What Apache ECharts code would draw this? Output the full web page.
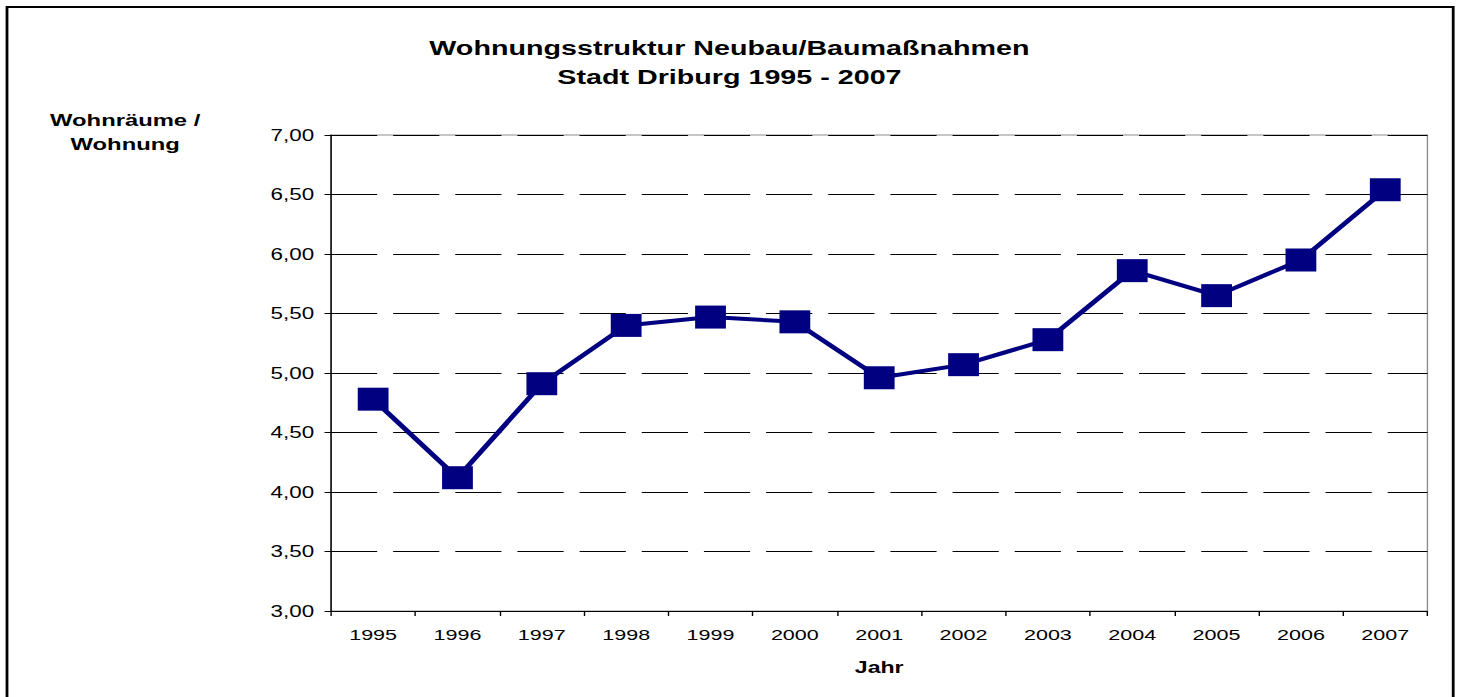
<!DOCTYPE html>
<html>
<head>
<meta charset="utf-8">
<script src="https://cdn.jsdelivr.net/npm/echarts@6/dist/echarts.min.js"></script>
<style>
  html, body { margin: 0; padding: 0; background: #fff; overflow: hidden; }
  /* Vorlage ist horizontal gestreckt (ca. 1.4x), daher schmaler zeichnen und strecken */
  #chart {
    width: 1041.4px;
    height: 697px;
    transform: scaleX(1.4);
    transform-origin: 0 0;
  }
</style>
</head>
<body>
<div id="chart"></div>
<script>
// Daten
const jahre = ['1995', '1996', '1997', '1998', '1999', '2000', '2001',
  '2002', '2003', '2004', '2005', '2006', '2007']
const wohnraeume = [4.78, 4.12, 4.91, 5.40, 5.47, 5.43, 4.96,
  5.07, 5.28, 5.86, 5.65, 5.95, 6.54]

const chart = echarts.init(document.getElementById('chart'), null, { renderer: 'svg' })

const fontFamily = '"Liberation Sans", Arial, sans-serif'

chart.setOption({
  animation: false,
  backgroundColor: '#fff',
  title: {
    text: 'Wohnungsstruktur Neubau/Baumaßnahmen\nStadt Driburg 1995 - 2007',
    left: 516,
    textAlign: 'center',
    top: 28,
    textStyle: {
      fontFamily: fontFamily,
      fontWeight: 'bold',
      fontSize: 20.5,
      lineHeight: 29,
      color: '#000',
    },
  },
  // Rahmen um das ganze Diagramm
  graphic: [
    {
      type: 'rect',
      shape: { x: 5, y: 7, width: 1033, height: 700 },
      style: { fill: 'none', stroke: '#000', lineWidth: 2 },
      silent: true,
    },
  ],
  grid: {
    left: 236.4,
    right: 21.4,
    top: 135,
    bottom: 86,
    show: true,
    borderColor: '#8c8c8c',
    borderWidth: 1,
    containLabel: false,
  },
  xAxis: {
    type: 'category',
    data: jahre,
    boundaryGap: true,
    name: 'Jahr',
    nameLocation: 'middle',
    nameGap: 48,
    nameTextStyle: {
      fontFamily: fontFamily,
      fontWeight: 'bold',
      fontSize: 16.5,
      color: '#000',
    },
    axisLine: { lineStyle: { color: '#000', width: 1 } },
    axisTick: { show: true, alignWithLabel: false, length: 5, lineStyle: { color: '#000' } },
    axisLabel: {
      fontFamily: fontFamily,
      fontSize: 15.4,
      color: '#000',
      margin: 16,
    },
    splitLine: { show: false },
  },
  yAxis: {
    type: 'value',
    min: 3,
    max: 7,
    interval: 0.5,
    name: 'Wohnräume /\nWohnung',
    nameLocation: 'end',
    nameGap: -21,
    nameMoveOverlap: false,
    nameTextStyle: {
      fontFamily: fontFamily,
      fontWeight: 'bold',
      fontSize: 17,
      lineHeight: 24,
      color: '#000',
      align: 'center',
      padding: [0, 0, 0, -294],
    },
    axisLine: { show: true, lineStyle: { color: '#000', width: 1 } },
    axisTick: { show: true, length: 4.6, lineStyle: { color: '#000' } },
    axisLabel: {
      fontFamily: fontFamily,
      fontSize: 16,
      color: '#000',
      margin: 12,
      formatter: v => v.toFixed(2).replace('.', ','),
    },
    splitLine: {
      show: true,
      lineStyle: { color: '#000', width: 1, type: [33, 11.4] },
    },
  },
  series: [
    {
      type: 'line',
      data: wohnraeume,
      symbol: 'rect',
      symbolSize: [22, 23],
      lineStyle: { color: '#000080', width: 4 },
      itemStyle: { color: '#000080' },
    },
  ],
})
</script>
</body>
</html>
